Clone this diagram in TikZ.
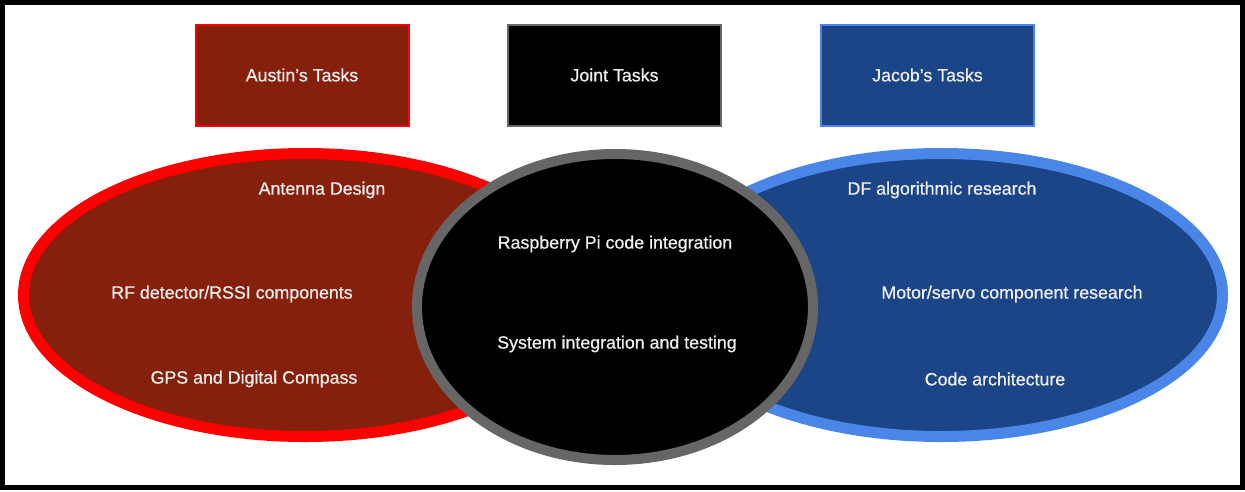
\documentclass[tikz,border=0pt]{standalone}
\usepackage{fontspec}
\setmainfont{Liberation Sans}
\newfontfamily\labelfont{Liberation Sans}[FakeBold=0.7]
\usetikzlibrary{shapes.geometric}
\definecolor{berry}{HTML}{85200C}
\definecolor{brightred}{HTML}{FF0000}
\definecolor{navy}{HTML}{1C4587}
\definecolor{cornflower}{HTML}{4A86E8}
\definecolor{ringgray}{HTML}{666666}
\definecolor{label}{HTML}{EFEFEF}
\tikzset{
  head/.style={rectangle, line width=2pt, minimum width=213pt, minimum height=101pt,
    inner sep=0pt, text=label, font=\labelfont\fontsize{17.8}{20}\selectfont},
  group/.style={ellipse, line width=11pt, minimum width=563pt, minimum height=283pt, inner sep=0pt},
  item/.style={text=label, font=\labelfont\fontsize{17.8}{20}\selectfont, inner sep=0pt}
}
\begin{document}
\begin{tikzpicture}[x=1pt,y=-1pt]
  \useasboundingbox (0,0) rectangle (1245,491);
  % outer frame
  \draw[line width=5pt] (2.5,2.5) rectangle (1242,487.5);

  % header boxes
  \node[head, fill=berry, draw=brightred] (austin) at (302,75) {Austin’s Tasks};
  \node[head, fill=black, draw=ringgray] (joint) at (614.5,75) {Joint Tasks};
  \node[head, fill=navy, draw=cornflower] (jacob) at (927.5,75) {Jacob’s Tasks};

  % overlapping groups
  \node[group, fill=berry, draw=brightred] (left) at (305,295) {};
  \node[group, fill=navy, draw=cornflower] (right) at (941,295) {};
  \node[ellipse, line width=10pt, minimum width=396pt, minimum height=306pt,
        inner sep=0pt, fill=black, draw=ringgray] (mid) at (615,307) {};

  % Austin's items
  \node[item] (ant) at (322,190) {Antenna Design};
  \node[item] (rf) at (232,294) {RF detector/RSSI components};
  \node[item] (gps) at (254,379) {GPS and Digital Compass};

  % joint items
  \node[item] (rpi) at (615,244) {Raspberry Pi code integration};
  \node[item] (sys) at (617,344) {System integration and testing};

  % Jacob's items
  \node[item] (df) at (942,190) {DF algorithmic research};
  \node[item] (motor) at (1012,294) {Motor/servo component research};
  \node[item] (code) at (995,379) {Code architecture};
\end{tikzpicture}
\end{document}
